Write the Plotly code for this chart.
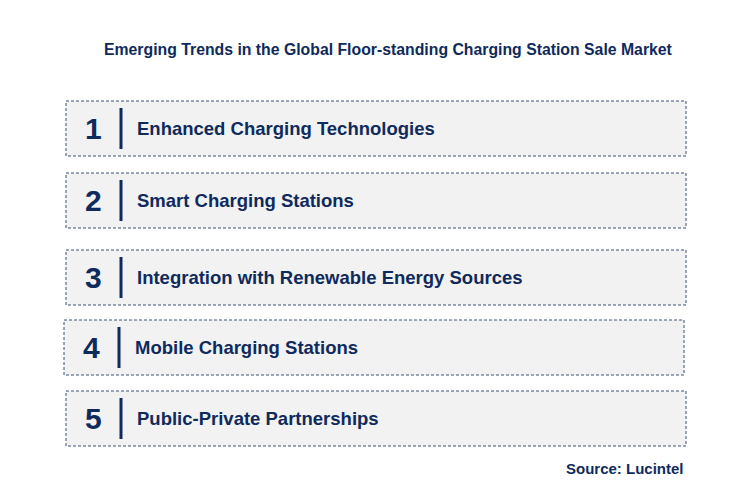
import plotly.graph_objects as go

title = "Emerging Trends in the Global Floor-standing Charging Station Sale Market"
numbers = ["1", "2", "3", "4", "5"]
trends = [
    "Enhanced Charging Technologies",
    "Smart Charging Stations",
    "Integration with Renewable Energy Sources",
    "Mobile Charging Stations",
    "Public-Private Partnerships",
]
box_top = [100, 172, 249, 319, 390]
box_left = [66, 66, 66, 64, 66]
source = "Source: Lucintel"

navy = "#0f2a5c"
fig = go.Figure()

for i, (n, t) in enumerate(zip(numbers, trends)):
    y0 = box_top[i]
    y1 = y0 + 55
    x0 = box_left[i]
    fig.add_shape(type="rect", x0=x0, x1=x0 + 620, y0=y0, y1=y1,
                  fillcolor="#f2f2f2", line=dict(color="#3a5070", width=1, dash="3px,2px"))
    fig.add_shape(type="line", x0=x0 + 55, x1=x0 + 55, y0=y0 + 7, y1=y1 - 7,
                  line=dict(color=navy, width=3))
    fig.add_annotation(x=x0 + 27, y=(y0 + y1) / 2, text="<b>" + n + "</b>", showarrow=False,
                       font=dict(size=30, color=navy, family="Arial"))
    fig.add_annotation(x=x0 + 69, y=(y0 + y1) / 2, text="<b>" + t + "</b>", showarrow=False,
                       xanchor="left", font=dict(size=18.5, color=navy, family="Arial"))

fig.add_annotation(x=388, y=48, text="<b>" + title + "</b>", showarrow=False,
                   font=dict(size=15.8, color=navy, family="Arial"))
fig.add_annotation(x=686, y=467, text="<b>" + source + "</b>", showarrow=False, xanchor="right",
                   font=dict(size=15, color=navy, family="Arial"))

fig.update_layout(
    width=743, height=501, margin=dict(l=0, r=0, t=0, b=0),
    plot_bgcolor="white", paper_bgcolor="white", showlegend=False,
    xaxis=dict(range=[8, 751], visible=False, fixedrange=True),
    yaxis=dict(range=[508, 7], visible=False, fixedrange=True),
)
fig.write_html("out.html")
